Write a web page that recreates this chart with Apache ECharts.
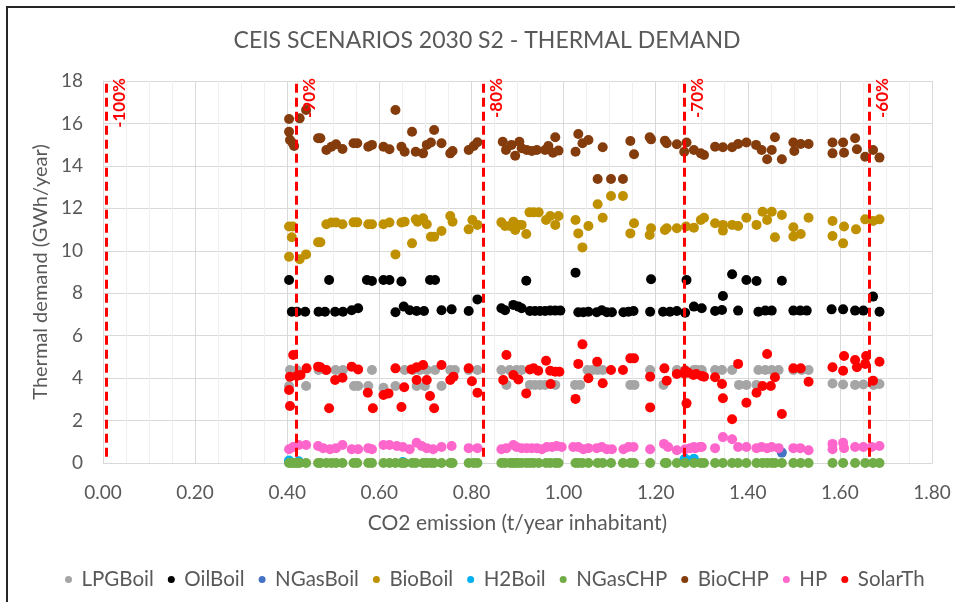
<!DOCTYPE html>
<html>
<head>
<meta charset="utf-8">
<script src="https://cdn.jsdelivr.net/npm/echarts@6/dist/echarts.min.js"></script>
<style>
html,body{margin:0;padding:0;background:#fff;}
#chart{width:955px;height:602px;}
</style>
</head>
<body>
<div id="chart"></div>
<script>
// ---- Data (x = CO2 emission t/year inhabitant, y = thermal demand GWh/year) ----
const titleText = 'CEIS SCENARIOS 2030 S2 - THERMAL DEMAND';
const xTicks = [0, 0.2, 0.4, 0.6, 0.8, 1.0, 1.2, 1.4, 1.6, 1.8];
const yTicks = [0, 2, 4, 6, 8, 10, 12, 14, 16, 18];
const refX = [0.007, 0.419, 0.825, 1.262, 1.663];
const refLabels = ['-100%', '-90%', '-80%', '-70%', '-60%'];
const seriesNames = ['LPGBoil','OilBoil','NGasBoil','BioBoil','H2Boil','NGasCHP','BioCHP','HP','SolarTh'];

const lpgBoil = [
 [0.406,4.38],[0.421,4.38],[0.468,4.38],[0.483,4.38],[0.505,4.38],[0.521,4.38],[0.584,4.38],[0.655,4.38],[0.673,4.38],[0.688,4.38],[0.703,4.38],[0.721,4.38],[0.754,4.38],[0.764,4.38],[0.794,4.38],[0.813,4.38],
 [0.404,3.63],[0.441,3.63],[0.545,3.63],[0.554,3.63],[0.576,3.63],[0.609,3.55],[0.635,3.63],[0.681,3.63],[0.699,3.63],[0.735,3.63],
 [0.865,4.38],[0.883,4.38],[0.898,4.38],[0.909,4.38],[1.052,4.38],[1.063,4.38],[1.074,4.38],[1.085,4.38],[1.188,4.38],[1.246,4.38],[1.290,4.38],
 [0.876,3.68],[0.927,3.68],[0.938,3.68],[0.949,3.68],[0.960,3.68],[0.982,3.68],[1.025,3.68],[1.036,3.68],[1.145,3.68],[1.154,3.68],[1.217,3.68],
 [1.264,4.38],[1.283,4.38],[1.300,4.38],[1.329,4.38],[1.344,4.38],[1.366,4.38],[1.423,4.38],[1.438,4.38],[1.452,4.38],[1.467,4.38],[1.499,4.38],[1.517,4.38],[1.532,4.38],
 [1.381,3.68],[1.397,3.68],[1.419,3.68],[1.584,3.75],[1.607,3.70],[1.633,3.68],[1.651,3.70],[1.673,3.68],[1.686,3.72]
];
const oilBoil = [
 [0.404,8.62],[0.491,8.62],[0.573,8.62],[0.584,8.58],[0.609,8.62],[0.622,8.62],[0.648,8.55],[0.710,8.62],[0.721,8.62],[0.919,8.59],[1.026,8.97],[1.190,8.66],[1.267,8.62],[1.366,8.89],[1.397,8.62],[1.419,8.58],[1.474,8.59],
 [0.410,7.13],[0.421,7.13],[0.439,7.13],[0.468,7.13],[0.482,7.13],[0.504,7.13],[0.521,7.13],[0.540,7.20],[0.554,7.29],[0.635,7.10],[0.653,7.37],[0.666,7.20],[0.681,7.16],[0.697,7.16],[0.735,7.20],[0.757,7.24],[0.794,7.16],[0.813,7.71],
 [0.865,7.29],[0.873,7.20],[0.891,7.45],[0.902,7.37],[0.909,7.29],[0.927,7.16],[0.938,7.16],[0.949,7.16],[0.960,7.16],[0.971,7.18],[0.982,7.18],[0.993,7.18],[1.032,7.10],[1.043,7.10],[1.054,7.13],[1.072,7.10],[1.083,7.20],[1.094,7.10],[1.105,7.10],[1.130,7.10],[1.141,7.13],[1.152,7.16],[1.188,7.13],[1.216,7.13],[1.231,7.13],[1.246,7.16],[1.264,7.08],
 [1.283,7.37],[1.300,7.29],[1.329,7.16],[1.344,7.21],[1.346,7.87],[1.379,7.18],[1.423,7.13],[1.438,7.18],[1.452,7.18],[1.499,7.18],[1.514,7.18],[1.528,7.18],[1.582,7.24],[1.607,7.24],[1.633,7.18],[1.651,7.18],[1.672,7.84],[1.686,7.13]
];
const ngasBoil = [[0.404,0.05],[1.474,0.49]];
const bioBoil = [
 [0.404,11.14],[0.412,11.14],[0.410,10.64],[0.404,9.72],[0.427,9.60],[0.441,9.83],[0.467,10.40],[0.472,10.40],[0.485,11.25],[0.496,11.33],[0.506,11.33],[0.520,11.25],[0.544,11.34],[0.552,11.34],[0.576,11.25],[0.584,11.25],[0.609,11.25],[0.622,11.33],[0.635,9.83],[0.648,11.33],[0.655,11.37],[0.671,10.35],[0.679,11.48],[0.683,11.37],[0.695,11.53],[0.703,11.25],[0.712,10.66],[0.719,10.66],[0.735,10.93],[0.754,11.64],[0.759,11.37],[0.794,11.01],[0.802,11.45],[0.813,11.22],
 [0.865,11.34],[0.873,11.17],[0.884,11.17],[0.891,11.37],[0.895,10.98],[0.902,11.22],[0.909,11.22],[0.919,10.79],[0.926,11.81],[0.935,11.81],[0.946,11.81],[0.962,11.45],[0.971,11.64],[0.982,11.22],[0.989,11.64],[1.026,11.45],[1.032,10.82],[1.041,10.16],[1.054,11.17],[1.074,12.19],[1.085,11.56],[1.103,12.58],[1.129,12.58],[1.145,10.82],[1.153,11.30],[1.187,10.74],[1.190,11.06],[1.220,10.98],[1.224,11.06],[1.246,11.06],[1.266,11.14],
 [1.283,11.09],[1.298,11.45],[1.305,11.56],[1.329,11.30],[1.346,11.22],[1.346,10.95],[1.366,11.22],[1.379,11.17],[1.397,11.56],[1.419,11.22],[1.432,11.84],[1.452,11.84],[1.442,11.45],[1.459,10.64],[1.474,11.69],[1.499,11.11],[1.499,10.67],[1.515,10.79],[1.532,11.56],[1.584,11.40],[1.584,10.70],[1.609,11.14],[1.607,10.35],[1.635,11.01],[1.655,11.48],[1.672,11.40],[1.686,11.48]
];
const h2Boil = [[0.404,0.12],[0.425,0.08],[0.651,0.05],[1.262,0.15],[1.282,0.12],[1.264,0.20],[1.283,0.20]];
const ngasCHP = [
 [0.404,0],[0.410,0],[0.415,0],[0.421,0],[0.427,0],[0.441,0],[0.467,0],[0.472,0],[0.485,0],[0.496,0],[0.506,0],[0.520,0],[0.544,0],[0.552,0],[0.576,0],[0.584,0],[0.609,0],[0.622,0],[0.635,0],[0.648,0],[0.655,0],[0.671,0],[0.679,0],[0.695,0],[0.703,0],[0.712,0],[0.719,0],[0.735,0],[0.754,0],[0.759,0],[0.794,0],[0.805,0],[0.813,0],
 [0.865,0],[0.873,0],[0.884,0],[0.891,0],[0.895,0],[0.902,0],[0.909,0],[0.919,0],[0.927,0],[0.935,0],[0.946,0],[0.962,0],[0.971,0],[0.982,0],[0.989,0],[1.026,0],[1.032,0],[1.041,0],[1.054,0],[1.074,0],[1.085,0],[1.103,0],[1.129,0],[1.145,0],[1.153,0],[1.188,0],[1.220,0],[1.224,0],[1.246,0],[1.264,0],
 [1.283,0],[1.298,0],[1.305,0],[1.329,0],[1.346,0],[1.366,0],[1.379,0],[1.397,0],[1.419,0],[1.432,0],[1.442,0],[1.452,0],[1.459,0],[1.474,0],[1.499,0],[1.515,0],[1.532,0],[1.584,0],[1.607,0],[1.633,0],[1.655,0],[1.672,0],[1.686,0]
];
const bioCHP = [
 [0.404,16.21],[0.427,16.24],[0.441,16.63],[0.404,15.61],[0.406,15.22],[0.412,15.07],[0.415,14.94],[0.467,15.30],[0.472,15.30],[0.485,14.75],[0.496,14.90],[0.506,15.02],[0.520,14.80],[0.544,15.07],[0.552,15.07],[0.576,14.90],[0.584,14.99],[0.609,14.90],[0.622,14.78],[0.635,16.63],[0.648,14.90],[0.655,14.67],[0.671,15.61],[0.679,14.67],[0.695,14.59],[0.703,14.99],[0.712,15.10],[0.719,15.69],[0.735,15.07],[0.754,14.59],[0.759,14.70],[0.794,14.75],[0.805,14.94],[0.813,15.11],
 [0.868,15.14],[0.875,14.75],[0.887,14.99],[0.895,14.48],[0.904,15.14],[0.909,14.83],[0.920,14.75],[0.931,14.70],[0.942,14.75],[0.960,14.75],[0.967,14.94],[0.977,14.62],[0.982,15.35],[0.989,14.72],[1.026,14.67],[1.032,15.50],[1.041,15.07],[1.054,15.22],[1.074,13.38],[1.085,14.88],[1.103,13.38],[1.129,13.38],[1.145,15.17],[1.153,14.55],[1.187,15.35],[1.190,15.25],[1.220,15.19],[1.224,15.07],[1.246,15.02],[1.262,14.67],[1.267,15.10],
 [1.283,14.75],[1.298,14.59],[1.305,14.51],[1.329,14.90],[1.346,14.88],[1.366,14.88],[1.379,15.03],[1.397,15.10],[1.418,14.99],[1.430,14.75],[1.442,14.31],[1.452,14.75],[1.459,15.35],[1.474,14.31],[1.499,15.10],[1.501,14.70],[1.515,15.03],[1.532,15.03],[1.584,15.10],[1.584,14.59],[1.607,15.10],[1.609,14.62],[1.633,15.30],[1.637,14.78],[1.655,14.43],[1.672,14.75],[1.686,14.39]
];
const hp = [
 [0.404,0.65],[0.413,0.75],[0.425,0.85],[0.441,0.85],[0.467,0.80],[0.478,0.70],[0.493,0.65],[0.506,0.70],[0.520,0.85],[0.540,0.65],[0.554,0.65],[0.576,0.70],[0.584,0.65],[0.609,0.85],[0.622,0.85],[0.638,0.80],[0.651,0.75],[0.666,0.65],[0.681,0.95],[0.692,0.80],[0.703,0.70],[0.717,0.65],[0.735,0.75],[0.757,0.80],[0.794,0.70],[0.813,0.70],
 [0.865,0.65],[0.876,0.70],[0.891,0.85],[0.898,0.75],[0.909,0.70],[0.920,0.70],[0.931,0.70],[0.942,0.70],[0.953,0.65],[0.964,0.75],[0.975,0.75],[0.985,0.80],[0.996,0.75],[1.021,0.75],[1.032,0.75],[1.043,0.65],[1.054,0.70],[1.072,0.70],[1.083,0.75],[1.094,0.65],[1.105,0.65],[1.130,0.65],[1.141,0.75],[1.152,0.75],[1.188,0.65],[1.218,0.90],[1.227,0.75],[1.246,0.60],[1.264,0.65],[1.275,0.70],[1.286,0.70],[1.296,0.75],
 [1.283,0.75],[1.300,0.75],[1.329,0.70],[1.346,1.22],[1.366,1.12],[1.379,0.75],[1.397,0.75],[1.419,0.70],[1.430,0.75],[1.442,0.70],[1.452,0.75],[1.467,0.70],[1.499,0.70],[1.514,0.70],[1.532,0.60],[1.584,0.90],[1.584,0.65],[1.607,0.95],[1.609,0.70],[1.633,0.75],[1.651,0.75],[1.669,0.75],[1.686,0.80]
];
const solarTh = [
 [0.413,5.09],[0.406,4.07],[0.421,4.10],[0.429,4.15],[0.442,4.46],[0.467,4.54],[0.472,4.51],[0.485,4.38],[0.504,3.91],[0.520,4.02],[0.540,4.54],[0.554,4.41],[0.575,3.31],[0.404,3.44],[0.406,2.69],[0.491,2.58],[0.586,2.58],[0.635,4.46],[0.654,3.57],[0.609,3.20],[0.620,3.28],[0.648,2.64],[0.670,4.41],[0.681,4.51],[0.695,4.62],[0.681,3.91],[0.703,3.91],[0.710,3.16],[0.719,2.58],[0.735,4.62],[0.754,3.91],[0.761,4.07],[0.794,4.46],[0.801,3.85],[0.813,3.31],
 [0.876,5.09],[0.869,3.91],[0.891,4.15],[0.902,3.94],[0.919,3.28],[0.927,4.41],[0.935,4.46],[0.945,4.35],[0.962,4.82],[0.971,4.35],[0.982,4.30],[0.991,4.30],[0.972,3.72],[1.026,3.02],[1.032,4.67],[1.041,5.59],[1.054,3.99],[1.073,4.77],[1.085,3.76],[1.103,4.38],[1.129,4.38],[1.145,4.93],[1.153,4.93],[1.188,4.07],[1.188,2.62],[1.219,4.46],[1.224,3.88],[1.246,4.19],[1.262,4.22],[1.271,4.25],[1.267,2.81],[1.288,4.19],
 [1.264,4.35],[1.282,4.15],[1.300,4.10],[1.305,4.07],[1.329,4.04],[1.344,3.72],[1.346,3.05],[1.366,2.06],[1.379,4.67],[1.397,2.84],[1.419,3.31],[1.432,3.63],[1.450,3.63],[1.442,5.14],[1.459,4.04],[1.474,2.31],[1.499,4.46],[1.515,4.46],[1.532,3.83],[1.584,4.51],[1.607,4.35],[1.609,5.04],[1.633,4.85],[1.637,4.51],[1.657,5.04],[1.655,4.67],[1.672,3.88],[1.686,4.77]
];

const seriesData = [lpgBoil, oilBoil, ngasBoil, bioBoil, h2Boil, ngasCHP, bioCHP, hp, solarTh];
const seriesColors = ['#A5A5A5','#000000','#4472C4','#BF9000','#00B0F0','#70AD47','#843C0C','#FF66CC','#FF0000'];

const FONT = 'Lato';
const GREY = '#595959';

const chart = echarts.init(document.getElementById('chart'), null, {renderer: 'canvas'});

const series = seriesNames.map((n, i) => ({
  name: n,
  type: 'scatter',
  data: seriesData[i],
  symbol: 'circle',
  symbolSize: 10,
  itemStyle: { color: seriesColors[i], opacity: 1 },
  emphasis: { disabled: true },
  z: 3
}));

series.push({
  name: 'refLines',
  type: 'scatter',
  data: [],
  silent: true,
  z: 4,
  markLine: {
    silent: true,
    symbol: ['none', 'none'],
    animation: false,
    lineStyle: { color: '#FF0000', width: 3, type: [9, 5] },
    label: {
      show: true,
      position: 'insideEndBottom',
      color: '#FF0000',
      fontWeight: 'bold',
      fontFamily: FONT,
      fontSize: 17,
      distance: [-3, 5]
    },
    data: refX.map((x, i) => [
      { coord: [x, 0.3] },
      { coord: [x, 18], label: { formatter: refLabels[i] } }
    ])
  }
});

chart.setOption({
  animation: false,
  backgroundColor: '#fff',
  textStyle: { fontFamily: FONT },
  title: {
    text: titleText,
    left: 482,
    top: 24,
    textAlign: 'center',
    textStyle: { color: GREY, fontSize: 23, fontWeight: 'normal', fontFamily: FONT }
  },
  graphic: [{
    type: 'rect',
    shape: { x: 7, y: 7, width: 1000, height: 1000 },
    style: { fill: 'none', stroke: '#262626', lineWidth: 2 },
    silent: true,
    z: 100
  }],
  legend: {
    data: seriesNames,
    bottom: 7,
    left: 60,
    icon: 'circle',
    itemWidth: 16,
    itemHeight: 7,
    itemGap: 14,
    textStyle: { color: GREY, fontSize: 20.5, fontFamily: FONT }
  },
  grid: { left: 103, right: 23, top: 81, bottom: 139, containLabel: false },
  xAxis: {
    type: 'value',
    min: xTicks[0],
    max: xTicks[xTicks.length - 1],
    interval: 0.2,
    name: 'CO2 emission (t/year inhabitant)',
    nameLocation: 'middle',
    nameGap: 50,
    nameTextStyle: { color: GREY, fontSize: 21, fontFamily: FONT },
    axisLine: { show: true, lineStyle: { color: '#D9D9D9', width: 1 } },
    axisTick: { show: false },
    axisLabel: { color: GREY, fontSize: 19, margin: 20, fontFamily: FONT, formatter: v => v.toFixed(2) },
    splitLine: { show: true, lineStyle: { color: '#D9D9D9', width: 1 } },
    minorTick: { show: false, splitNumber: 4 },
    minorSplitLine: { show: true, lineStyle: { color: '#EFEFEF', width: 1 } }
  },
  yAxis: {
    type: 'value',
    min: yTicks[0],
    max: yTicks[yTicks.length - 1],
    interval: 2,
    name: 'Thermal demand (GWh/year)',
    nameLocation: 'middle',
    nameGap: 44,
    nameRotate: 90,
    nameTextStyle: { color: GREY, fontSize: 20, fontFamily: FONT },
    axisLine: { show: true, lineStyle: { color: '#D9D9D9', width: 1 } },
    axisTick: { show: false },
    axisLabel: { color: GREY, fontSize: 19, margin: 20, fontFamily: FONT },
    splitLine: { show: true, lineStyle: { color: '#D9D9D9', width: 1 } }
  },
  series: series
});
</script>
</body>
</html>
